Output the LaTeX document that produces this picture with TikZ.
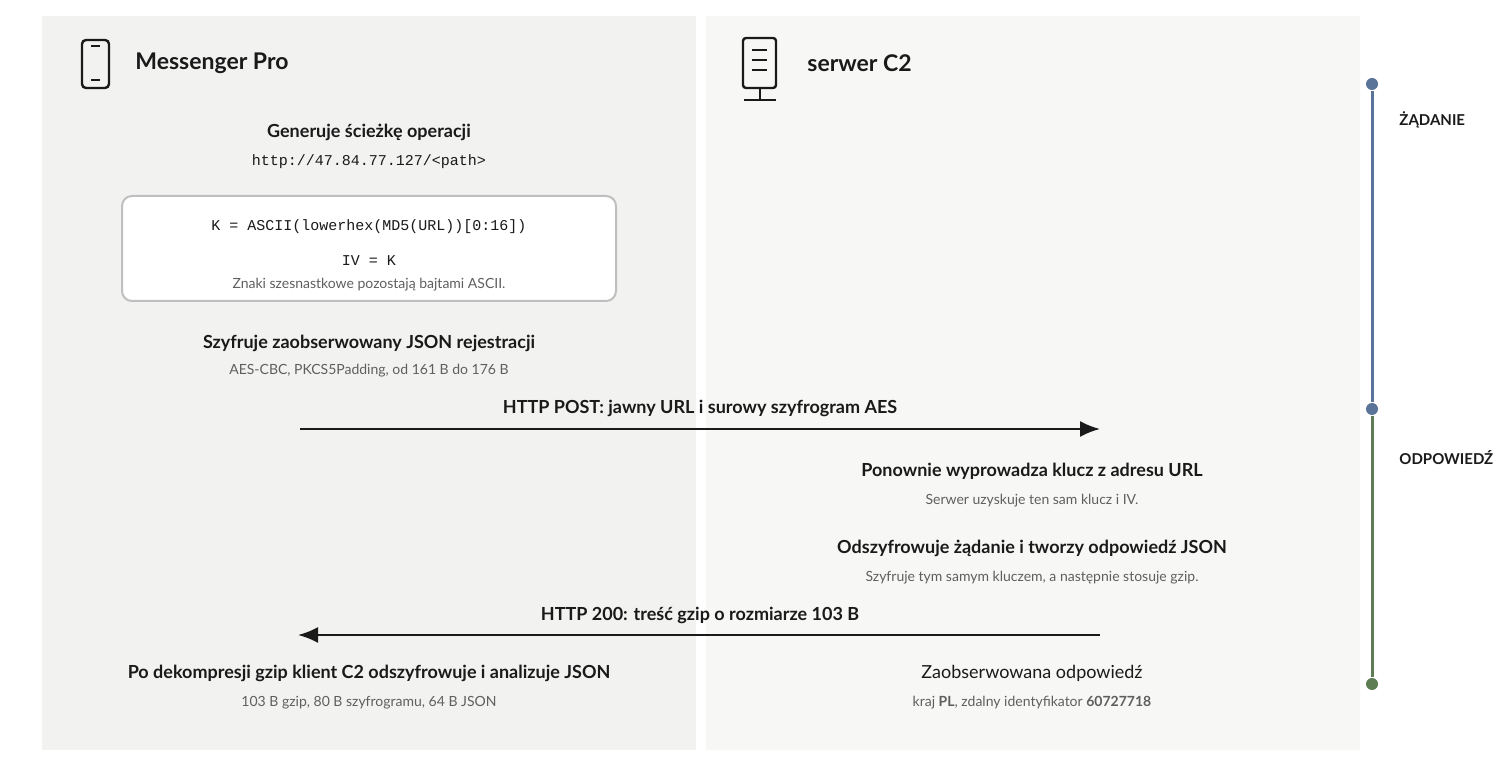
\documentclass[tikz,border=0pt]{standalone}
\usepackage{fontspec}
\setmainfont{Lato}
\setmonofont{Liberation Mono}
\definecolor{panelL}{RGB}{242,242,241}
\definecolor{panelR}{RGB}{247,247,246}
\definecolor{ink}{RGB}{26,26,26}
\definecolor{muted}{RGB}{95,95,95}
\definecolor{reqblue}{RGB}{90,115,153}
\definecolor{respgreen}{RGB}{95,125,85}
\tikzset{every picture/.style={line width=0.75pt}}
\tikzset{
  head/.style={font=\bfseries\fontsize{9}{11}\selectfont, text=ink},
  sub/.style={font=\fontsize{7}{9}\selectfont, text=muted},
  code/.style={font=\ttfamily\fontsize{7.5}{9}\selectfont, text=ink},
  title/.style={font=\bfseries\fontsize{11.5}{14}\selectfont, text=ink, anchor=west},
  phase/.style={font=\bfseries\fontsize{7.5}{9}\selectfont, text=ink, anchor=west},
  msg/.style={-{Latex[length=10pt,width=8pt]}, line width=1.1pt, draw=ink},
  dot/.style={circle, inner sep=0pt, minimum size=6pt}
}
\usetikzlibrary{arrows.meta}
\begin{document}
\begin{tikzpicture}[x=0.5pt,y=0.5pt,yscale=-1,xscale=1]
\useasboundingbox[fill=white] (0,0) rectangle (1500,764);

%Panels
\fill[panelL] (42,16) rectangle (696,750);
\fill[panelR] (706,16) rectangle (1360,750);

%Phone icon
\draw[ink, line width=1.2pt, rounded corners=2pt] (82,40) rectangle (109,88);
\draw[ink, line width=1.2pt] (91,46) -- (100,46) (91,80) -- (100,80);
%Server icon
\draw[ink, line width=1.2pt, rounded corners=1.5pt] (743,38) rectangle (776,88);
\draw[ink, line width=1.2pt] (752,50) -- (767,50) (752,60) -- (767,60) (752,70) -- (767,70);
\draw[ink, line width=1.2pt] (760,88) -- (760,100) (744,100) -- (776,100);

% Text Node
\node[title] (client) at (128,63) {Messenger Pro};
\node[title] (server) at (800,63) {serwer C2};

% Left column
\node[head] (gen) at (369,132) {Generuje ścieżkę operacji};
\node[code] (url) at (369,162) {http://47.84.77.127/<path>};
\draw[fill=white, draw=black!25, line width=1pt, rounded corners=5pt] (122,196) rectangle (616,301);
\node[code] (key) at (369,227) {K = ASCII(lowerhex(MD5(URL))[0:16])};
\node[code] (iv) at (369,261) {IV = K};
\node[sub] (hex) at (369,285) {Znaki szesnastkowe pozostają bajtami ASCII.};
\node[head] (enc) at (369,343) {Szyfruje zaobserwowany JSON rejestracji};
\node[sub] (aes) at (369,371) {AES-CBC, PKCS5Padding, od 161 B do 176 B};

% Messages
\coordinate (postA) at (300,429);
\coordinate (postB) at (1100,429);
\draw[msg] (postA) -- (postB);
\node[head] (post) at (700,408) {HTTP POST: jawny URL i surowy szyfrogram AES};
\coordinate (respA) at (1100,635);
\coordinate (respB) at (298,635);
\draw[msg] (respA) -- (respB);
\node[head] (resp) at (700,615) {HTTP 200: treść gzip o rozmiarze 103 B};

% Right column
\node[head] (derive) at (1032,471) {Ponownie wyprowadza klucz z adresu URL};
\node[sub] (same) at (1032,501) {Serwer uzyskuje ten sam klucz i IV.};
\node[head] (dec) at (1032,548) {Odszyfrowuje żądanie i tworzy odpowiedź JSON};
\node[sub] (gzip) at (1032,578) {Szyfruje tym samym kluczem, a następnie stosuje gzip.};
\node[font=\fontsize{9}{11}\selectfont, text=ink] (obs) at (1032,673) {Zaobserwowana odpowiedź};
\node[sub] (kraj) at (1032,703) {kraj \textbf{PL}, zdalny identyfikator \textbf{60727718}};

% Left bottom
\node[head] (parse) at (369,673) {Po dekompresji gzip klient C2 odszyfrowuje i analizuje JSON};
\node[sub] (sizes) at (369,703) {103 B gzip, 80 B szyfrogramu, 64 B JSON};

% Timeline
\node[dot, fill=reqblue] (t0) at (1372,84) {};
\node[dot, fill=reqblue] (t1) at (1372,409) {};
\node[dot, fill=respgreen] (t2) at (1372,684) {};
\draw[reqblue, line width=1.5pt] (t0) -- (t1);
\draw[respgreen, line width=1.5pt] (t1) -- (t2);
\node[phase] (zad) at (1392,120) {ŻĄDANIE};
\node[phase] (odp) at (1392,458) {ODPOWIEDŹ};

\end{tikzpicture}
\end{document}
